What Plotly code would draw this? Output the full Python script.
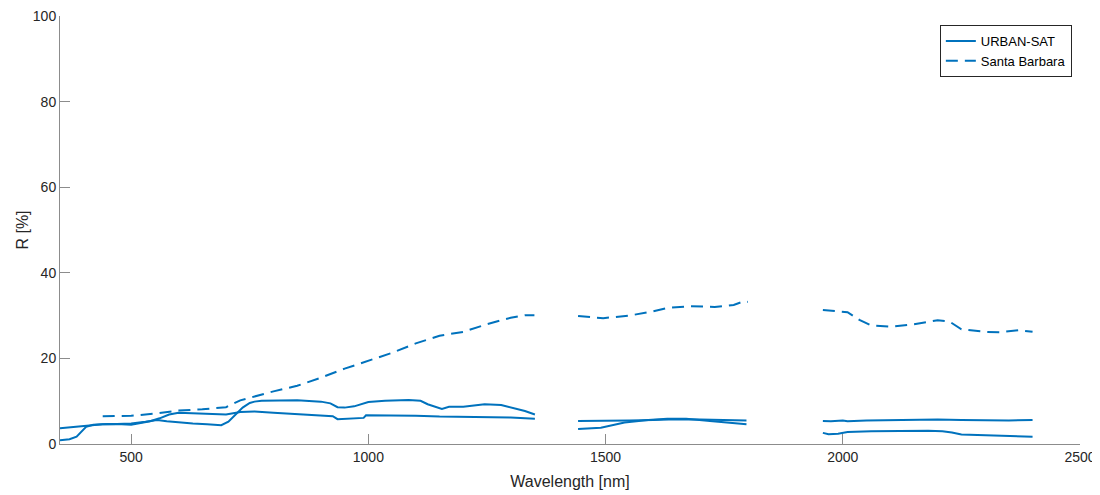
import plotly.graph_objects as go

# URBAN-SAT spectrum 1
u1_wl = [350, 380, 410, 440, 470, 500, 530, 555, 575, 600, 630, 660, 690, 705, 720, 735, 750, 760, 775, 800,
         850, 900, 920, 935, 950, 970, 990, 1000, 1035, 1085, 1110, 1125, 1155, 1170, 1200, 1245, 1280, 1310,
         1330, 1351, None,
         1442, 1500, 1550, 1600, 1650, 1700, 1750, 1797, None,
         1958, 1975, 2000, 2010, 2050, 2100, 2150, 2200, 2250, 2300, 2350, 2400]
u1_r = [3.7, 4.0, 4.4, 4.6, 4.7, 4.8, 5.2, 5.6, 5.3, 5.0, 4.8, 4.6, 4.4, 5.2, 6.8, 8.5, 9.6, 9.9, 10.1, 10.1,
        10.2, 9.9, 9.5, 8.6, 8.5, 8.8, 9.4, 9.8, 10.1, 10.3, 10.1, 9.3, 8.2, 8.7, 8.7, 9.3, 9.1, 8.3,
        7.7, 6.9, None,
        5.4, 5.4, 5.5, 5.6, 5.8, 5.7, 5.6, 5.5, None,
        5.4, 5.3, 5.5, 5.3, 5.5, 5.6, 5.7, 5.7, 5.6, 5.5, 5.5, 5.6]

# URBAN-SAT spectrum 2
u2_wl = [350, 370, 385, 395, 405, 420, 450, 480, 500, 520, 540, 560, 580, 600, 630, 660, 700, 730, 760, 800,
         850, 900, 925, 935, 960, 990, 995, 1050, 1100, 1150, 1200, 1250, 1300, 1351, None,
         1442, 1490, 1540, 1590, 1630, 1670, 1720, 1760, 1797, None,
         1958, 1970, 1990, 2005, 2010, 2060, 2120, 2180, 2210, 2230, 2250, 2300, 2350, 2400]
u2_r = [0.9, 1.1, 1.7, 2.8, 4.0, 4.5, 4.7, 4.6, 4.5, 4.9, 5.3, 6.0, 6.9, 7.3, 7.2, 7.0, 6.9, 7.5, 7.6, 7.3,
        7.0, 6.7, 6.5, 5.8, 5.9, 6.1, 6.7, 6.7, 6.6, 6.4, 6.3, 6.3, 6.2, 5.9, None,
        3.5, 3.8, 5.0, 5.6, 5.9, 5.9, 5.4, 5.0, 4.6, None,
        2.6, 2.3, 2.4, 2.6, 2.8, 3.0, 3.1, 3.1, 3.0, 2.7, 2.2, 2.0, 1.9, 1.7]

# Santa Barbara spectrum
sb_wl = [440, 500, 550, 600, 650, 700, 730, 760, 800, 850, 900, 950, 1000, 1050, 1100, 1150, 1200, 1250,
         1300, 1330, 1350, None,
         1442, 1470, 1495, 1550, 1600, 1630, 1680, 1730, 1770, 1790, 1800, None,
         1958, 2010, 2035, 2060, 2100, 2150, 2200, 2225, 2250, 2300, 2330, 2370, 2400]
sb_r = [6.5, 6.6, 7.1, 7.8, 8.1, 8.6, 10.2, 11.1, 12.3, 13.6, 15.5, 17.6, 19.5, 21.3, 23.5, 25.3, 26.2, 28.0,
        29.5, 30.1, 30.1, None,
        29.9, 29.7, 29.4, 30.0, 31.0, 31.8, 32.2, 32.0, 32.5, 33.3, 33.2, None,
        31.3, 30.8, 29.0, 27.7, 27.4, 28.0, 28.9, 28.6, 26.8, 26.2, 26.1, 26.6, 26.2]

x_ticks = [500, 1000, 1500, 2000, 2500]
y_ticks = [0, 20, 40, 60, 80, 100]

blue = "#0072BD"
font_family = "Liberation Sans, Arial, Helvetica"
fig = go.Figure()
fig.add_trace(go.Scatter(x=u1_wl, y=u1_r, mode="lines", name="URBAN-SAT",
                         line=dict(color=blue, width=2), legendgroup="u"))
fig.add_trace(go.Scatter(x=sb_wl, y=sb_r, mode="lines", name="Santa Barbara",
                         line=dict(color=blue, width=2, dash="12px,7px")))
fig.add_trace(go.Scatter(x=u2_wl, y=u2_r, mode="lines", name="URBAN-SAT", showlegend=False,
                         line=dict(color=blue, width=2), legendgroup="u"))

axis_common = dict(showgrid=False, zeroline=False, showline=True, linecolor="#8c8c8c", linewidth=1,
                   ticks="inside", ticklen=10, tickcolor="#8c8c8c", mirror=False,
                   ticklabeloverflow="allow",
                   tickfont=dict(family=font_family, size=14, color="#262626"))
fig.update_layout(
    width=1092, height=487,
    margin=dict(l=52, r=20, t=8, b=51, autoexpand=False),
    plot_bgcolor="white", paper_bgcolor="white",
    xaxis=dict(range=[350, 2500], tickvals=x_ticks, ticktext=[str(v) for v in x_ticks],
               title=dict(text="Wavelength [nm]", font=dict(family=font_family, size=16, color="#262626"),
                          standoff=12), **axis_common),
    yaxis=dict(range=[0, 100], tickvals=y_ticks, ticktext=[str(v) for v in y_ticks],
               title=dict(text="R [%]", font=dict(family=font_family, size=16, color="#262626"),
                          standoff=0), **axis_common),
    legend=dict(x=0.992, y=0.979, xanchor="right", yanchor="top", bgcolor="white",
                bordercolor="#262626", borderwidth=1,
                font=dict(family=font_family, size=13, color="#000000"),
                tracegroupgap=0),
    showlegend=True,
)
fig.write_html("out.html")
